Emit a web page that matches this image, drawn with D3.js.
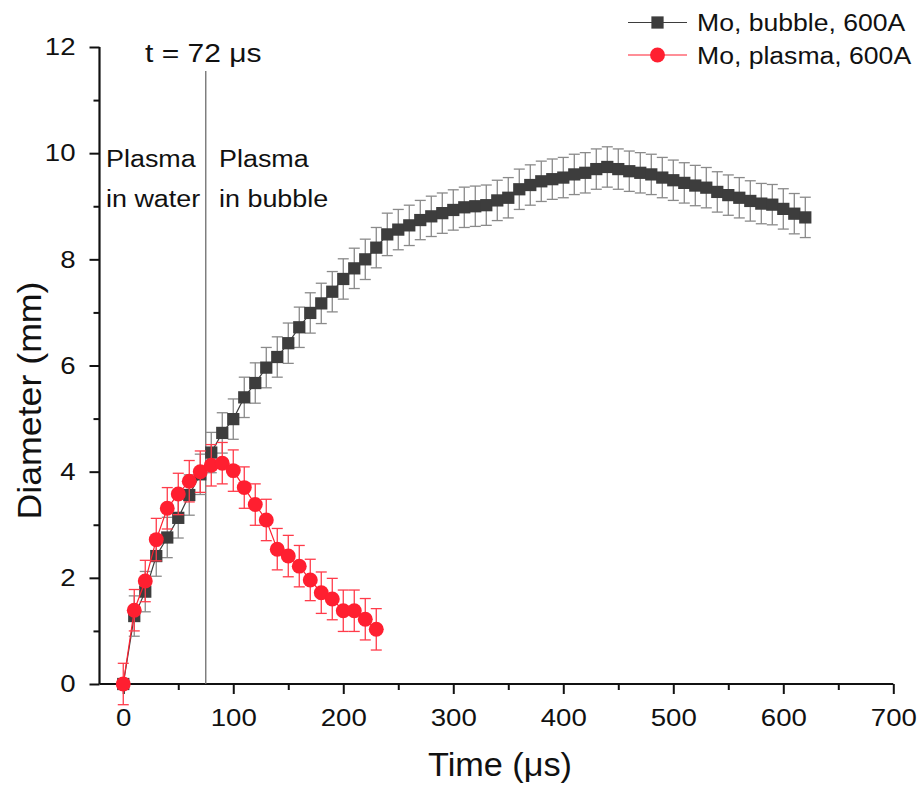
<!DOCTYPE html>
<html>
<head>
<meta charset="utf-8">
<script src="https://cdn.jsdelivr.net/npm/d3@7"></script>
<style>
  html, body { margin: 0; padding: 0; background: #fff; }
  svg { display: block; }
  text { font-family: "Liberation Sans", Arial, sans-serif; fill: #111; }
</style>
</head>
<body>
<svg id="chart" width="917" height="789"></svg>
<script>
// ---------- data ----------
const bubbleTime = [0,10,20,30,40,50,60,70,80,90,100,110,120,130,140,150,160,170,180,190,200,210,220,230,240,250,260,270,280,290,300,310,320,330,340,350,360,370,380,390,400,410,420,430,440,450,460,470,480,490,500,510,520,530,540,550,560,570,580,590,600,610,620];
const bubbleDiam = [0,1.28,1.74,2.41,2.76,3.13,3.56,3.95,4.36,4.73,4.99,5.40,5.67,5.96,6.16,6.42,6.72,6.99,7.17,7.39,7.63,7.83,8.00,8.22,8.47,8.56,8.64,8.74,8.81,8.87,8.93,8.98,9.00,9.02,9.11,9.16,9.32,9.40,9.47,9.51,9.54,9.60,9.63,9.70,9.74,9.70,9.66,9.63,9.60,9.54,9.49,9.44,9.39,9.35,9.27,9.21,9.16,9.10,9.05,9.03,8.95,8.86,8.79];
const bubbleErr = [0,0.38,0.38,0.38,0.38,0.38,0.38,0.38,0.38,0.38,0.38,0.38,0.38,0.38,0.38,0.38,0.38,0.38,0.38,0.38,0.38,0.38,0.38,0.38,0.40,0.38,0.38,0.37,0.38,0.38,0.38,0.38,0.38,0.38,0.38,0.38,0.38,0.38,0.38,0.38,0.38,0.38,0.38,0.38,0.38,0.38,0.38,0.38,0.38,0.38,0.38,0.38,0.38,0.38,0.38,0.38,0.38,0.38,0.38,0.38,0.38,0.38,0.38];
const plasmaTime = [0,10,20,30,40,50,60,70,80,90,100,110,120,130,140,150,160,170,180,190,200,210,220,230];
const plasmaDiam = [0,1.39,1.94,2.72,3.31,3.58,3.82,4.00,4.12,4.16,4.02,3.70,3.38,3.09,2.54,2.41,2.22,1.96,1.72,1.60,1.38,1.38,1.22,1.03];
const plasmaErr = [0.39,0.39,0.39,0.40,0.39,0.39,0.39,0.39,0.39,0.39,0.39,0.39,0.39,0.39,0.39,0.39,0.39,0.39,0.39,0.39,0.39,0.39,0.39,0.39];
const seriesNames = ["Mo, bubble, 600A", "Mo, plasma, 600A"];
const xTickValues = [0,100,200,300,400,500,600,700];
const xMinorValues = [50,150,250,350,450,550,650];
const yTickValues = [0,2,4,6,8,10,12];
const yMinorValues = [1,3,5,7,9,11];
const markerTime = 75;            // vertical line position on the axis
const markerLabel = "t = 72 \u03bcs";
const regionLabels = [["Plasma","in water"],["Plasma","in bubble"]];
const xTitle = "Time (\u03bcs)";
const yTitle = "Diameter (mm)";

// ---------- setup ----------
const svg = d3.select("#chart");
const x = d3.scaleLinear().domain([-21.6, 700]).range([99.5, 893.3]);
const y = d3.scaleLinear().domain([0, 12]).range([684, 47]);

const gray = "#3d3d3d", grayErr = "#8a8a8a";
const red = "#ff1f30", redErr = "#ff3b4a";

// widen text horizontally (the reference uses a wider rendering of Arial)
function stretch(sel, k) {
  sel.each(function() {
    const L = this.getComputedTextLength();
    d3.select(this).attr("textLength", L * k).attr("lengthAdjust", "spacingAndGlyphs");
  });
}

// ---------- axes ----------
const xAxis = svg.append("g").attr("transform", `translate(0,${y(0)})`);
xAxis.call(d3.axisBottom(x).tickValues(xTickValues).tickSize(10).tickPadding(15).tickFormat(d3.format("d")));
const xMinor = svg.append("g").attr("transform", `translate(0,${y(0)})`);
xMinor.call(d3.axisBottom(x).tickValues(xMinorValues).tickSize(6).tickFormat(""));
xMinor.select(".domain").remove();

const yAxis = svg.append("g").attr("transform", `translate(${x(-21.6)},0)`);
yAxis.call(d3.axisLeft(y).tickValues(yTickValues).tickSize(10).tickPadding(14).tickFormat(d3.format("d")));
const yMinor = svg.append("g").attr("transform", `translate(${x(-21.6)},0)`);
yMinor.call(d3.axisLeft(y).tickValues(yMinorValues).tickSize(6).tickFormat(""));
yMinor.select(".domain").remove();

[xAxis, yAxis].forEach(g => {
  g.select(".domain").attr("stroke", "#111").attr("stroke-width", 2.2);
  g.selectAll(".tick line").attr("stroke", "#111").attr("stroke-width", 2);
  g.selectAll(".tick text").attr("font-size", 24).attr("fill", "#111")
    .attr("font-family", "Liberation Sans, Arial, sans-serif");
  stretch(g.selectAll(".tick text"), 1.15);
});
[xMinor, yMinor].forEach(g => g.selectAll(".tick line").attr("stroke", "#111").attr("stroke-width", 2));
yAxis.selectAll(".domain").attr("d", `M0,${y(0)}V${y(12)}`);
xAxis.selectAll(".domain").attr("d", `M${x(-21.6)},0H${x(700)}`);

// titles
const xt = svg.append("text").attr("x", 500).attr("y", 776).attr("text-anchor", "middle")
  .attr("font-size", 33).text(xTitle);
xt.attr("textLength", 144).attr("lengthAdjust", "spacingAndGlyphs");
const yt = svg.append("text").attr("transform", `translate(41,${(y(0)+y(12))/2 + 35}) rotate(-90)`)
  .attr("text-anchor", "middle").attr("font-size", 33).text(yTitle);
yt.attr("textLength", 238).attr("lengthAdjust", "spacingAndGlyphs");

// ---------- annotation ----------
svg.append("line").attr("x1", x(markerTime)).attr("x2", x(markerTime))
  .attr("y1", 71).attr("y2", y(0)).attr("stroke", "#6e6e6e").attr("stroke-width", 1.3);
stretch(svg.append("text").attr("x", 145).attr("y", 62).attr("font-size", 25).text(markerLabel), 1.2);
regionLabels.forEach((lines, i) => {
  const tx = i === 0 ? 106 : 219;
  lines.forEach((s, j) => {
    stretch(svg.append("text").attr("x", tx).attr("y", 167 + j * 40).attr("font-size", 23).text(s), 1.17);
  });
});

// ---------- series ----------
function drawSeries(times, vals, errs, color, errColor, shape) {
  const data = times.map((t, i) => ({t, v: vals[i], e: errs[i]}));
  const g = svg.append("g");
  g.append("path").datum(data)
    .attr("d", d3.line().x(d => x(d.t)).y(d => y(d.v)))
    .attr("fill", "none").attr("stroke", color).attr("stroke-width", 1.2);
  const eb = g.append("g").attr("stroke", errColor).attr("stroke-width", 1.3);
  data.filter(d => d.e > 0).forEach(d => {
    const cx = x(d.t), y1 = y(d.v + d.e), y2 = y(d.v - d.e);
    eb.append("line").attr("x1", cx).attr("x2", cx).attr("y1", y1).attr("y2", y2);
    eb.append("line").attr("x1", cx - 5.5).attr("x2", cx + 5.5).attr("y1", y1).attr("y2", y1);
    eb.append("line").attr("x1", cx - 5.5).attr("x2", cx + 5.5).attr("y1", y2).attr("y2", y2);
  });
  const sym = d3.symbol().type(shape === "square" ? d3.symbolSquare : d3.symbolCircle)
    .size(shape === "square" ? 150 : 175);
  g.selectAll("path.m").data(data).join("path").attr("class", "m")
    .attr("transform", d => `translate(${x(d.t)},${y(d.v)})`)
    .attr("d", sym).attr("fill", color);
}
drawSeries(bubbleTime, bubbleDiam, bubbleErr, gray, grayErr, "square");
drawSeries(plasmaTime, plasmaDiam, plasmaErr, red, redErr, "circle");

// ---------- legend ----------
const legendRows = [{name: seriesNames[0], color: gray, shape: "square", yy: 22.5},
                    {name: seriesNames[1], color: red, shape: "circle", yy: 55}];
legendRows.forEach(r => {
  svg.append("line").attr("x1", 628).attr("x2", 687).attr("y1", r.yy).attr("y2", r.yy)
    .attr("stroke", r.color).attr("stroke-width", 1.2);
  svg.append("path").attr("transform", `translate(657.5,${r.yy})`)
    .attr("d", d3.symbol().type(r.shape === "square" ? d3.symbolSquare : d3.symbolCircle)
      .size(r.shape === "square" ? 150 : 175)())
    .attr("fill", r.color);
  stretch(svg.append("text").attr("x", 697).attr("y", r.yy + 8.5).attr("font-size", 23).text(r.name), 1.155);
});
</script>
</body>
</html>
